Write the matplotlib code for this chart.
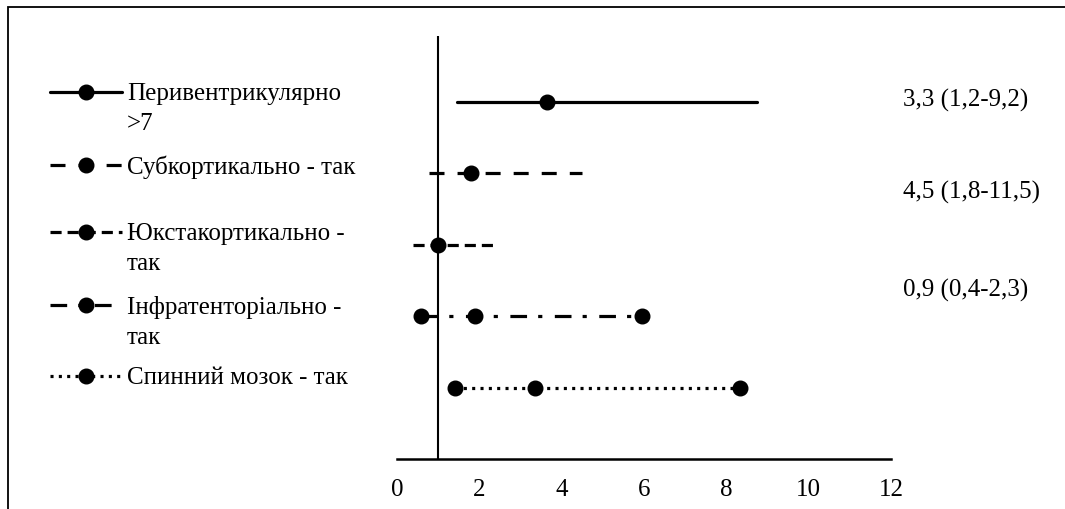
import matplotlib.pyplot as plt
from matplotlib.lines import Line2D
from matplotlib.patches import Rectangle

plt.rcParams['font.family'] = ['Liberation Serif', 'DejaVu Serif']
plt.rcParams['lines.scale_dashes'] = False

# Відношення шансів та довірчі інтервали для кожної локалізації
labels = ["Перивентрикулярно\n>7", "Субкортикально - так", "Юкстакортикально -\nтак",
          "Інфратенторіально -\nтак", "Спинний мозок - так"]
point = [3.65, 1.8, 1.0, 1.9, 3.36]
low = [1.45, 0.77, 0.39, 0.58, 1.42]
high = [8.74, 4.49, 2.34, 5.94, 8.33]
end_marks = [False, False, False, True, True]
row_y = [5, 4, 3, 2, 1]
notes = ["3,3 (1,2-9,2)", "4,5 (1,8-11,5)", "0,9 (0,4-2,3)"]
xticks = [0, 2, 4, 6, 8, 10, 12]

styles = ['-', (0, (10.8, 9.4)), (0, (8, 4.3)), (0, (12, 8, 3, 9)), (0, (2.2, 3.8))]

W, H = 1065, 510
fig = plt.figure(figsize=(W / 100, H / 100), dpi=100)
ax = fig.add_axes([397 / W, 50 / H, 494 / W, 423 / H])

for i in range(len(point)):
    ax.plot([low[i], high[i]], [row_y[i]] * 2, color='black', lw=2.3,
            linestyle=styles[i], solid_capstyle='round')
    ax.plot(point[i], row_y[i], 'o', color='black', ms=10.5)
    if end_marks[i]:
        ax.plot([low[i], high[i]], [row_y[i]] * 2, 'o', color='black', ms=10.5)

ax.axvline(1, color='black', lw=1.5)
ax.set_xlim(0, 12)
ax.set_ylim(0, 5.92)
ax.set_xticks(xticks)
ax.set_yticks([])
ax.tick_params(axis='x', length=0, pad=14, labelsize=18)
for s in ['left', 'top', 'right']:
    ax.spines[s].set_visible(False)
ax.spines['bottom'].set_linewidth(1.8)

# підписи справа
for t, yp in zip(notes, [100, 192, 290]):
    fig.text(903 / W, 1 - yp / H, t, fontsize=18, va='center')

# легенда зліва
leg_y = [93, 166, 233, 306, 377]
for i in range(len(labels)):
    yf = 1 - leg_y[i] / H
    fig.add_artist(Line2D([50 / W, 122 / W], [yf, yf], color='black', lw=2.3,
                          linestyle=styles[i], solid_capstyle='round'))
    fig.add_artist(Line2D([86 / W], [yf], marker='o', color='black', ms=10.5))
    fig.text(127 / W, yf + 10 / H, labels[i], fontsize=18, va='top', linespacing=1.5)

fig.add_artist(Rectangle((8 / W, -0.2), 1.2, 1.2 - 8 / H,
                         transform=fig.transFigure, fill=False, lw=1.3, edgecolor='black'))

fig.savefig('out.png', dpi=100)
